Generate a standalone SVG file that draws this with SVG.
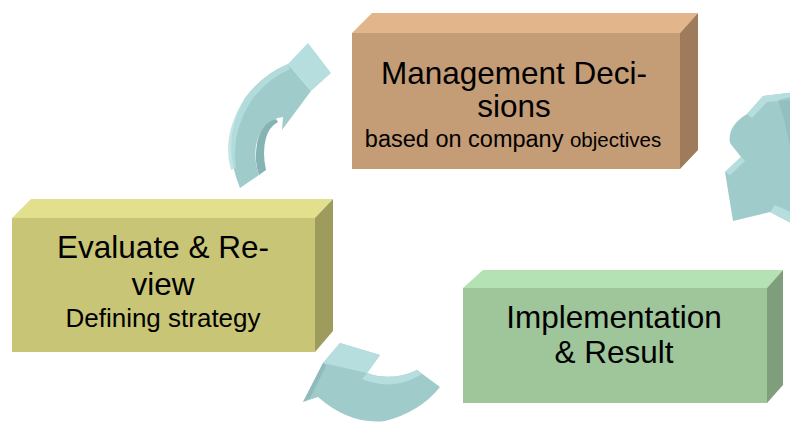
<svg xmlns="http://www.w3.org/2000/svg" width="790" height="423" viewBox="0 0 790 423">
<style>
text{font-family:"Liberation Sans",Arial,sans-serif;fill:#000;text-anchor:middle}
.t{font-size:31.5px}
.arrow{fill:#A0CBCB}
.alight{fill:#B6DEDE}
.adark{fill:#86B4B4}
</style>
<rect width="790" height="423" fill="#fff"/>
<g id="arrows">
<g id="arrow-evaluate-to-management">
<path class="arrow" d="M240,188 Q220,140 245,98 Q262,75 288,64 L311,91 L282,130 L283,117 Q262,120 256,145 Q254,162 259,175 Z"/>
<path class="alight" d="M288,64 L308,43 L331,73 L311,91 Z"/>
<path class="alight" d="M231,170 Q221,135 245,98 Q262,75 288,64 L290,69 Q266,80 251,101 Q231,133 236,168 Z" opacity="0.8"/>
<path class="adark" d="M276,119 Q262,122 257,143 Q254,162 259,175 L266,170 Q262,152 266,138 Q269,127 278,122 Z"/>
</g>
<g id="arrow-management-to-implementation">
<path class="arrow" d="M763,96 L795,92 L795,225 L770,212 L733,221 L725,172 L741,157 L730,143 Q727,126 747,114 Z"/>
<path class="alight" d="M747,114 L763,96 L795,92 L795,100 L767,102 L752,118 Z"/>
<path class="alight" d="M725,172 L741,157 L745,161 L730,175 Z"/>
<path class="alight" d="M770,212 L795,225 L795,214 L775,205 Z"/>
<path class="adark" d="M778,100 L795,96 L795,190 Q792,140 778,100 Z" opacity="0.5"/>
</g>
<g id="arrow-implementation-to-evaluate">
<path class="arrow" d="M323,363 L340,343 L380,355 L367,373 Q392,382 417,370 L440,387 Q420,412 385,421 Q350,425 318,397 L303,402 Z"/>
<path class="alight" d="M323,363 L340,343 L380,355 L367,373 Z"/>
<path class="alight" d="M367,373 Q392,382 417,370 L422,374 Q393,392 362,379 Z"/>
<path class="adark" d="M303,402 L323,363 L326,366 L310,398 Z" opacity="0.7"/>
</g>
</g>
<g id="management">
<polygon points="352,33 372,13 698,13 680,33" fill="#E2B68A"/>
<polygon points="680,33 698,13 698,150 680,169" fill="#9E7B5B"/>
<rect x="352" y="33" width="328" height="136" fill="#C49C76"/>
<text class="t" x="514" y="84">Management Deci-</text>
<text class="t" x="514" y="117">sions</text>
<text x="513" y="147"><tspan font-size="23.5px">based on company </tspan><tspan font-size="20.5px">objectives</tspan></text>
</g>
<g id="evaluate">
<polygon points="12,218 31,199 333,199 315,218" fill="#E2E08C"/>
<polygon points="315,218 333,199 333,331 315,352" fill="#9E9C5C"/>
<rect x="12" y="218" width="303" height="134" fill="#C8C676"/>
<text class="t" x="163" y="258">Evaluate &amp; Re-</text>
<text class="t" x="163" y="295">view</text>
<text x="163" y="327" font-size="26px">Defining strategy</text>
</g>
<g id="implementation">
<polygon points="463,288 483,270 783,270 767,288" fill="#B4E2B4"/>
<polygon points="767,288 783,270 783,385 767,403" fill="#7E9E7C"/>
<rect x="463" y="288" width="304" height="115" fill="#9EC69A"/>
<text class="t" x="614" y="328">Implementation</text>
<text class="t" x="614" y="363">&amp; Result</text>
</g>
</svg>
